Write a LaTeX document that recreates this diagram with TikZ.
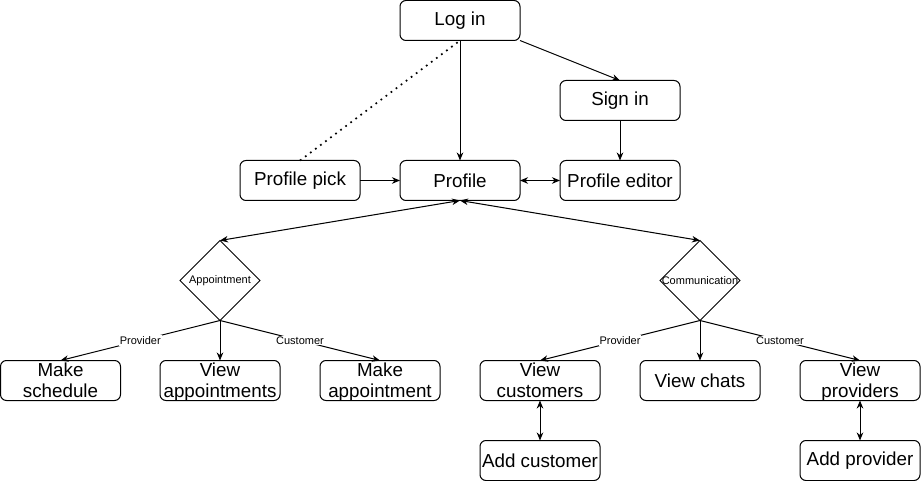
\documentclass[tikz,border=0pt]{standalone}
\usepackage{fontspec}
\setmainfont{Liberation Sans}
\usetikzlibrary{shapes.geometric,arrows.meta}
\newcommand\twoline[2]{\smash{\raisebox{4pt}{\begin{tabular}[t]{@{}c@{}}#1\\#2\end{tabular}}}}
\tikzset{
  box/.style={draw, line width=1pt, rounded corners=6pt, minimum width=120pt, minimum height=40pt,
    inner sep=0pt, outer sep=0pt, font=\fontsize{18.8}{21}\selectfont},
  decision/.style={draw, line width=1pt, shape=diamond, aspect=1, minimum width=80pt, minimum height=80pt,
    inner sep=0pt, outer sep=0pt, font=\fontsize{11}{12}\selectfont},
  conn/.style={line width=1pt},
  arr/.style={conn, -{Stealth[length=8pt,width=6.5pt,inset=2.5pt]}},
  darr/.style={conn, {Stealth[length=8pt,width=6.5pt,inset=2.5pt]}-{Stealth[length=8pt,width=6.5pt,inset=2.5pt]}},
  elabel/.style={fill=white, inner sep=1pt, font=\fontsize{11}{12}\selectfont},
  dots/.style={line width=1.7pt, dash pattern=on 1.7pt off 4.6pt, dash phase=-3pt}
}
\begin{document}
\begin{tikzpicture}[x=1pt,y=-1pt]
\useasboundingbox (0,0) rectangle (921,481);
% top
\node[box] (login) at (460,20.5) {Log in};
\node[box] (signin) at (620,100.5) {Sign in};
\node[box] (pp) at (300,180.5) {Profile pick};
\node[box] (profile) at (460,180.5) {Profile};
\node[box] (pe) at (620,180.5) {Profile editor};
% decisions
\node[decision] (appt) at (220,280.5) {\makebox[0pt]{Appointment}};
\node[decision] (comm) at (700,280.5) {\makebox[0pt]{Communication}};
% leaves
\node[box] (ms) at (60.5,380.5) {\twoline{Make}{schedule}};
\node[box] (va) at (220,380.5) {\twoline{View}{appointments}};
\node[box] (ma) at (380,380.5) {\twoline{Make}{appointment}};
\node[box] (vc) at (540,380.5) {\twoline{View}{customers}};
\node[box] (vch) at (700,380.5) {View chats};
\node[box] (vp) at (860,380.5) {\twoline{View}{providers}};
\node[box] (ac) at (540,460.5) {Add customer};
\node[box] (ap) at (860,460.5) {Add provider};
% connectors
\draw[arr] (login.south) -- (profile.north);
\draw[arr] (login.south east) -- (signin.north);
\draw[dots] (login.south) -- (pp.north);
\draw[arr] (signin.south) -- (pe.north);
\draw[arr] (pp.east) -- (profile.west);
\draw[darr] (profile.east) -- (pe.west);
\draw[darr] (profile.south) -- (appt.north);
\draw[darr] (profile.south) -- (comm.north);
\draw[arr] (appt.south) -- node[elabel] {Provider} (ms.north);
\draw[arr] (appt.south) -- (va.north);
\draw[arr] (appt.south) -- node[elabel] {Customer} (ma.north);
\draw[arr] (comm.south) -- node[elabel] {Provider} (vc.north);
\draw[arr] (comm.south) -- (vch.north);
\draw[arr] (comm.south) -- node[elabel] {Customer} (vp.north);
\draw[darr] (vc.south) -- (ac.north);
\draw[darr] (vp.south) -- (ap.north);
\end{tikzpicture}
\end{document}
